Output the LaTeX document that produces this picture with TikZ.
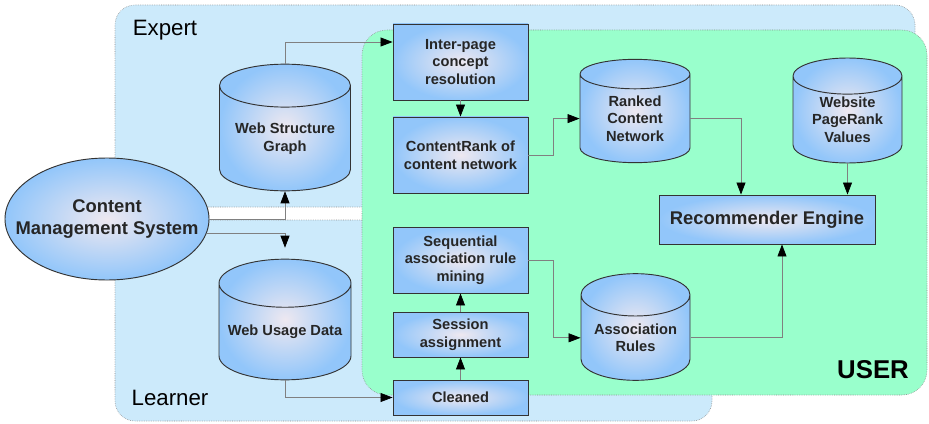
\documentclass[tikz,border=0pt]{standalone}
\usepackage{fontspec}
\setmainfont{Liberation Sans}
\usetikzlibrary{shapes,arrows.meta,positioning}
\definecolor{regblue}{RGB}{204,234,251}
\definecolor{usergreen}{RGB}{153,255,204}
\definecolor{nodeblue}{RGB}{146,198,250}
\definecolor{nodecore}{RGB}{238,232,240}
\definecolor{linegray}{RGB}{128,128,128}
\tikzstyle{region}=[draw=black!45,densely dotted,line width=0.5pt]
\tikzstyle{proc}=[rectangle,draw=black!80,line width=0.8pt,inner color=nodecore,outer color=nodeblue,align=center,minimum width=4.05cm,inner sep=0pt,text=black!85,font=\fontsize{12.5}{15}\selectfont\bfseries]
\tikzstyle{store}=[cylinder,shape border rotate=90,anchor=shape center,draw=black!80,line width=0.8pt,inner color=nodecore,outer color=nodeblue,align=center,inner sep=0pt,text=black!85,font=\fontsize{12.5}{15}\selectfont\bfseries]
\tikzstyle{big}=[font=\fontsize{15.7}{19.5}\selectfont\bfseries]
\tikzstyle{arr}=[-{Triangle[length=0.36cm,width=0.27cm,color=black]},draw=linegray,line width=0.6pt]

\begin{document}
\begin{tikzpicture}[x=0.03cm,y=-0.03cm]
\useasboundingbox (0,0) rectangle (929,424);
\fill[white] (0,0) rectangle (929,424);
\draw[region,fill=regblue] (115,120) -- (115,207) -- (915,207) [rounded corners=0.6cm] -- (915,5) -- (115,5) -- cycle;
\draw[region,fill=regblue] (115,300) -- (115,220) -- (712,220) [rounded corners=0.6cm] -- (712,421) -- (115,421) -- cycle;
\draw[region,fill=usergreen,rounded corners=0.75cm] (362,30) rectangle (927,395);
\node[font=\fontsize{19}{22}\selectfont] (expert) at (165,30) {Expert};
\node[font=\fontsize{19}{22}\selectfont] (learner) at (170,398) {Learner};
\node[font=\fontsize{22}{26}\selectfont\bfseries] (user) at (873,370) {USER};

\node[ellipse,draw=black!80,line width=0.8pt,inner color=nodecore,outer color=nodeblue,minimum width=6.12cm,minimum height=3.66cm,inner xsep=-0.6cm,inner ysep=0pt,align=center,text=black!85,big] (cms) at (107,219) {Content\\Management System};
\node[store,minimum width=3.93cm,minimum height=3.8cm,aspect=0.43] (wsg) at (285,127.5) {Web Structure\\Graph};
\node[store,minimum width=3.96cm,minimum height=3.62cm,aspect=0.42] (wud) at (285,319.5) {Web Usage Data};
\node[proc,minimum height=2.28cm] (inter) at (460.5,62) {Inter-page\\concept\\resolution};
\node[proc,minimum height=2.28cm] (crank) at (460.5,155) {ContentRank of\\content network};
\node[proc,minimum height=1.98cm] (seq) at (460.5,260) {Sequential\\association rule\\mining};
\node[proc,minimum height=1.35cm] (sess) at (460.5,334.5) {Session\\assignment};
\node[proc,minimum height=1.05cm] (clean) at (460.5,397.5) {Cleaned};
\node[store,minimum width=3.3cm,minimum height=3.1cm,aspect=0.51] (rcn) at (635,111) {Ranked\\Content\\Network};
\node[store,minimum width=3.27cm,minimum height=3.15cm,aspect=0.51] (wpv) at (847.5,110.5) {Website\\PageRank\\Values};
\node[store,minimum width=3.27cm,minimum height=3.2cm,aspect=0.51] (ar) at (635.5,327) {Association\\Rules};
\node[proc,big,minimum width=6.48cm,minimum height=1.47cm] (rec) at (767,219.5) {Recommender Engine};

\draw[arr] (cms.east) -| (wsg.south);
\draw[arr,shorten >=0.33cm] (cms.-8) -| (wud.north);
\draw[arr] (wsg.north) |- ([yshift=0.6cm]inter.west);
\draw[arr] (inter) -- (crank);
\draw[arr] (crank.east) -- ++(25,0) |- (rcn.west);
\draw[arr] (rcn.east) -| ([xshift=-0.78cm]rec.north);
\draw[arr] (wpv.south) -- (wpv.south |- rec.north);
\draw[arr] (wud.south) |- (clean.west);
\draw[arr] (clean) -- (sess);
\draw[arr] (sess) -- (seq);
\draw[arr] (seq.east) -- ++(25,0) |- (ar.west);
\draw[arr] (ar.east) -| ([xshift=0.45cm]rec.south);
\end{tikzpicture}
\end{document}
